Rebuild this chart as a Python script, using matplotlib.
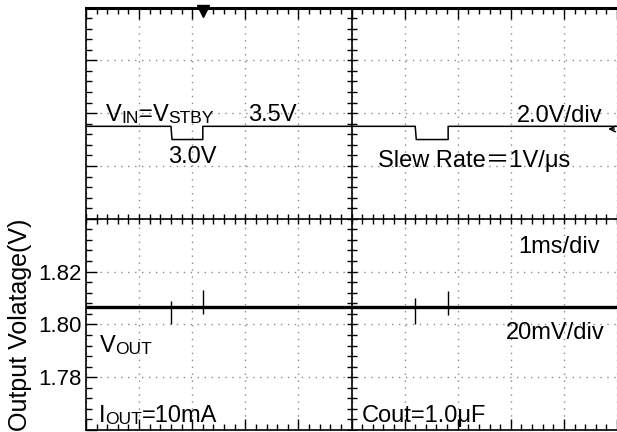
import numpy as np
import matplotlib
matplotlib.use("Agg")
import matplotlib.pyplot as plt
from matplotlib.ticker import FixedLocator, FuncFormatter
from matplotlib.transforms import blended_transform_factory

plt.rcParams['font.family'] = ['Liberation Sans', 'Noto Sans CJK JP', 'DejaVu Sans']

# time in ms (1 ms/div, 10 div)
vin_t = [0, 1.60, 1.62, 2.20, 2.20, 6.20, 6.22, 6.82, 6.82, 10]
vin_v = [3.5, 3.5, 3.0, 3.0, 3.5, 3.5, 3.0, 3.0, 3.5, 3.5]

vout_t = [0, 10]
vout_v = [1.8065, 1.8065]

# transient spikes on VOUT
spike_t = [1.60, 2.20, 6.20, 6.82]
spike_lo = [1.8000, 1.8038, 1.8000, 1.8034]
spike_hi = [1.8087, 1.8129, 1.8098, 1.8125]

trigger_t = 2.2
trigger_level = 3.4

ytick_labels = ['1.78', '1.80', '1.82']
vout_lim = (1.76, 1.92)   # 20 mV/div
vin_lim = (-8, 8)         # 2.0 V/div
t_lim = (0, 10)

fig = plt.figure(figsize=(6.17, 4.32), dpi=100)
ax = fig.add_axes([86 / 617, 2 / 432, 531 / 617, 422.5 / 432])
ax.set_xlim(*t_lim)
ax.set_ylim(*vout_lim)

x_major = np.arange(0, 11, 1)
x_minor = np.linspace(0, 10, 51)
y_major = np.linspace(vout_lim[0], vout_lim[1], 9)
y_minor = np.linspace(vout_lim[0], vout_lim[1], 41)
ax.xaxis.set_major_locator(FixedLocator(x_major))
ax.xaxis.set_minor_locator(FixedLocator(x_minor))
ax.yaxis.set_major_locator(FixedLocator(y_major))
ax.yaxis.set_minor_locator(FixedLocator(y_minor))
ax.xaxis.set_major_formatter(FuncFormatter(lambda v, p: ''))
ax.yaxis.set_major_formatter(FuncFormatter(
    lambda v, p: f'{v:.2f}' if f'{v:.2f}' in ytick_labels else ''))
ax.tick_params(which='both', direction='in', top=True, right=True,
               color='black', width=1.0)
ax.tick_params(which='major', length=8, labelsize=16, pad=3)
ax.tick_params(which='minor', length=4)

ax.grid(which='major', color='#8a8a8a', linestyle=(0, (1, 4)), linewidth=1.0)
for s in ax.spines.values():
    s.set_linewidth(1.2)
ax.spines['top'].set_linewidth(2.2)
ax.spines['right'].set_visible(False)

# center cross with small ticks
x_c = (t_lim[0] + t_lim[1]) / 2
y_c = (vout_lim[0] + vout_lim[1]) / 2
ax.axvline(x_c, color='black', lw=1.2, zorder=2)
ax.axhline(y_c, color='black', lw=1.2, zorder=2)
ax.plot(x_minor, [y_c] * len(x_minor), ls='none', marker='|', ms=7,
        mew=1.0, color='black', zorder=2)
ax.plot([x_c] * len(y_minor), y_minor, ls='none', marker='_', ms=7,
        mew=1.0, color='black', zorder=2)

# VOUT channel
ax.plot(vout_t, vout_v, color='black', lw=2.4, zorder=3)
ax.vlines(spike_t, spike_lo, spike_hi, color='black', lw=1.0, zorder=3)

# VIN channel on its own scale
ax2 = ax.twinx()
ax2.set_ylim(*vin_lim)
ax2.set_yticks([])
for s in ax2.spines.values():
    s.set_visible(False)
ax2.plot(vin_t, vin_v, color='black', lw=1.1, zorder=3)
ax2.annotate('', xy=(9.78, trigger_level), xytext=(10.0, trigger_level),
             arrowprops=dict(arrowstyle='->', color='black', lw=1.1),
             annotation_clip=False)

# trigger position marker
trans = blended_transform_factory(ax.transData, ax.transAxes)
ax.plot(trigger_t, 0.992, marker='v', ms=8, color='black',
        transform=trans, clip_on=False, zorder=5)


def smallcaps(x, y, parts, big=17, small=12.5):
    prev = None
    for s, is_big in parts:
        fs = big if is_big else small
        if prev is None:
            prev = ax.text(x, y, s, transform=ax.transAxes, fontsize=fs,
                           va='baseline', ha='left', zorder=6)
        else:
            prev = ax.annotate(s, xy=(1, 0), xycoords=prev, fontsize=fs,
                               va='bottom', ha='left', zorder=6)


fs_txt = 17
smallcaps(0.0377, 0.731, [('V', True), ('IN', False), ('=', True),
                          ('V', True), ('STBY', False)])
ax.text(0.305, 0.731, '3.5V', transform=ax.transAxes, fontsize=fs_txt, va='baseline')
ax.text(0.154, 0.632, '3.0V', transform=ax.transAxes, fontsize=fs_txt, va='baseline')
ax.text(0.972, 0.729, '2.0V/div', transform=ax.transAxes, fontsize=fs_txt,
        va='baseline', ha='right')
ax.text(0.550, 0.6225, 'Slew Rate＝1V/μs', transform=ax.transAxes,
        fontsize=fs_txt, va='baseline')
ax.text(0.968, 0.419, '1ms/div', transform=ax.transAxes, fontsize=fs_txt,
        va='baseline', ha='right')
ax.text(0.977, 0.215, '20mV/div', transform=ax.transAxes, fontsize=fs_txt,
        va='baseline', ha='right')
smallcaps(0.026, 0.1846, [('V', True), ('OUT', False)])
smallcaps(0.0245, 0.019, [('I', True), ('OUT', False), ('=10mA', True)])
ax.text(0.52, 0.019, 'Cout=1.0μF', transform=ax.transAxes, fontsize=fs_txt,
        va='baseline')

ax.text(-0.111, 0.25, 'Output Volatage(V)', transform=ax.transAxes,
        fontsize=18, rotation=90, rotation_mode='anchor',
        ha='center', va='baseline')

fig.savefig('out.png', dpi=100)
